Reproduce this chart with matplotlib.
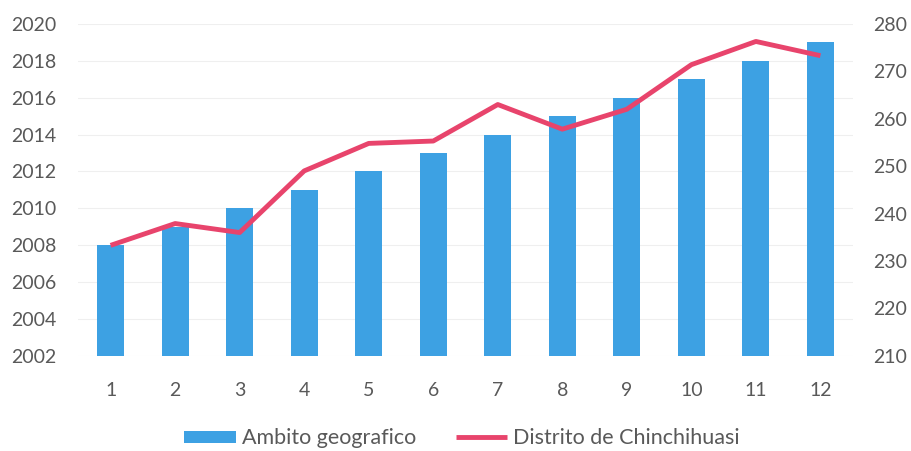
import matplotlib
matplotlib.use("Agg")
import matplotlib.pyplot as plt
from matplotlib.ticker import FixedLocator

plt.rcParams['font.family'] = ['Lato', 'DejaVu Sans']

categories = [1, 2, 3, 4, 5, 6, 7, 8, 9, 10, 11, 12]
ambito = [2008, 2009, 2010, 2011, 2012, 2013, 2014, 2015, 2016, 2017, 2018, 2019]
distrito = [233.3, 237.9, 236.0, 249.0, 254.8, 255.3, 263.0, 257.8, 262.0, 271.4, 276.3, 273.3]
left_ticks = list(range(2002, 2021, 2))
right_ticks = list(range(210, 281, 10))

bar_color = '#3DA1E3'
line_color = '#E8446C'
text_color = '#595959'

fig = plt.figure(figsize=(9.11, 4.51), dpi=100)
ax = fig.add_axes([0.086, 0.211, 0.850, 0.736])
base = 2002
ax.bar(categories, [v - base for v in ambito], bottom=base, width=0.42,
       color=bar_color, label='Ambito geografico', zorder=2)
ax.set_ylim(2002, 2020)
ax.set_xlim(0.5, 12.5)
ax.yaxis.set_major_locator(FixedLocator(left_ticks))
ax.set_xticks(categories)
ax.set_xticklabels([str(c) for c in categories])
ax.grid(axis='y', color='#EFEFEF', linewidth=0.8, zorder=0)
ax.tick_params(axis='both', length=0, colors=text_color, labelsize=14)
ax.tick_params(axis='x', pad=19)
ax.tick_params(axis='y', pad=16)
for s in ax.spines.values():
    s.set_visible(False)

ax2 = ax.twinx()
ax2.plot(categories, distrito, color=line_color, linewidth=3.5,
         label='Distrito de Chinchihuasi', zorder=3, solid_capstyle='butt')
ax2.set_ylim(210, 280)
ax2.yaxis.set_major_locator(FixedLocator(right_ticks))
ax2.tick_params(axis='y', length=0, colors=text_color, labelsize=14, pad=15)
for s in ax2.spines.values():
    s.set_visible(False)

h1, l1 = ax.get_legend_handles_labels()
h2, l2 = ax2.get_legend_handles_labels()
leg = fig.legend(h1 + h2, l1 + l2, loc='center', bbox_to_anchor=(0.507, 0.028),
                 ncol=2, frameon=False, fontsize=15.5, handlelength=2.4,
                 handleheight=0.5, handletextpad=0.25, columnspacing=1.85,
                 borderpad=0.1)
for t in leg.get_texts():
    t.set_color(text_color)

fig.savefig('out.png', dpi=100, facecolor='white')
